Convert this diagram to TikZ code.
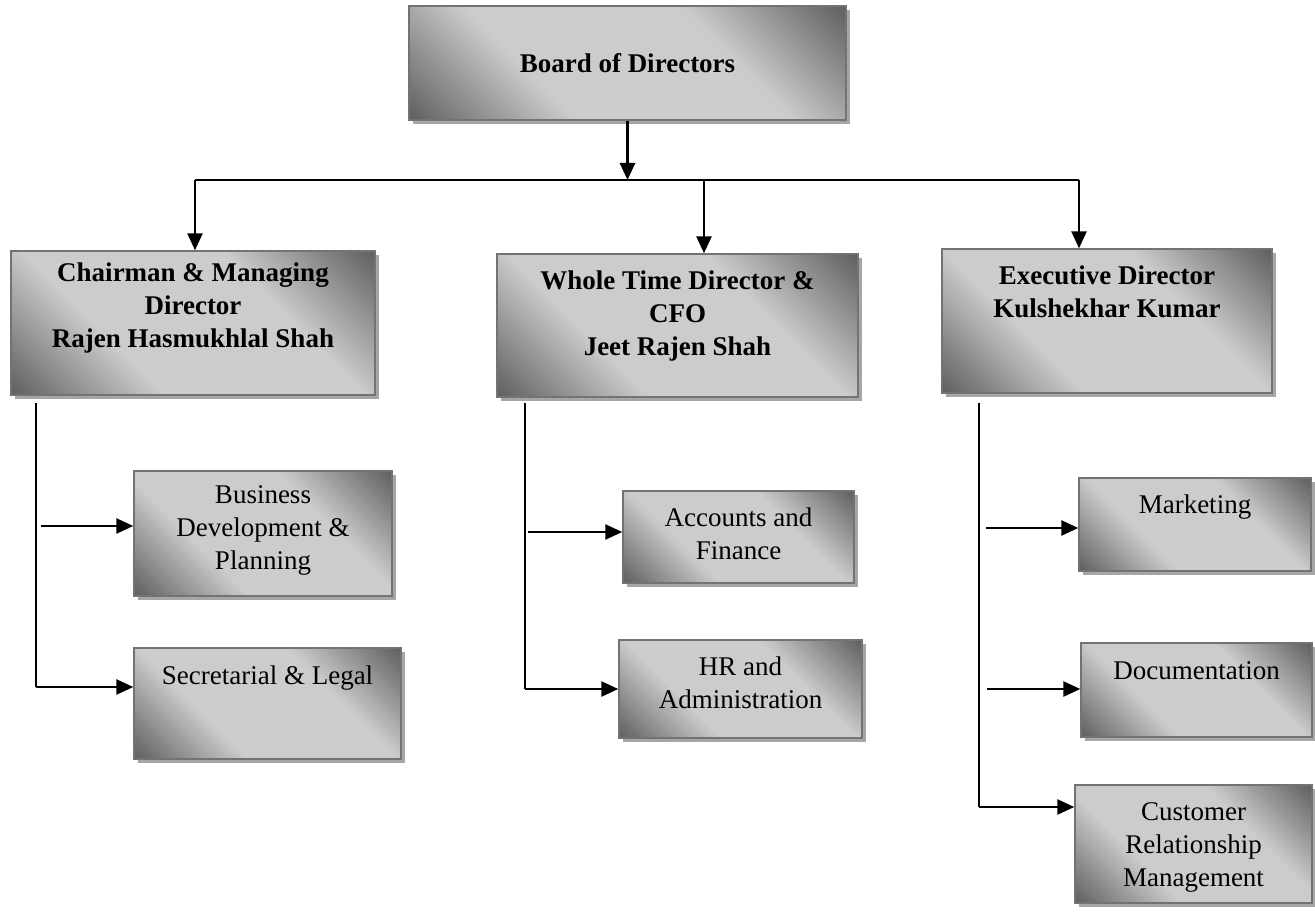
\documentclass[tikz,border=0pt]{standalone}
\usepackage{fontspec}
\setmainfont{Liberation Serif}
\usetikzlibrary{arrows.meta,shadows}
\pgfdeclarehorizontalshading{boxshade}{100bp}{color(0bp)=(black!62); color(15bp)=(black!62); color(36bp)=(black!20); color(64bp)=(black!20); color(85bp)=(black!62); color(100bp)=(black!62)}
\newcommand{\orgtext}[4]{\parbox[c][#2pt][t]{#1pt}{\centering\vspace*{#3pt}#4}}

\begin{document}
\begin{tikzpicture}[x=1pt, y=-1pt, >={Triangle[length=17pt,width=15pt]},
  orgbox/.style={rectangle, inner sep=0pt, draw=black!55, line width=1.4pt, shading=boxshade, shading angle=45, drop shadow={shadow xshift=4pt, shadow yshift=-4pt, fill=black!35, opacity=1}, font=\fontsize{27}{33}\selectfont},
  headbox/.style={orgbox, font=\fontsize{27}{33}\selectfont\bfseries},
  conn/.style={line width=2.6pt}]
\useasboundingbox (0,0) rectangle (1315,915);

% top level
\node[headbox] (board) at (627.5,63) {\orgtext{437}{114}{47}{Board of Directors}};
\node[headbox] (cmd) at (193,323) {\orgtext{364}{144}{12}{Chairman \& Managing\\Director\\Rajen Hasmukhlal Shah}};
\node[headbox] (wtd) at (677.5,325.5) {\orgtext{361}{143}{17}{Whole Time Director \&\\CFO\\Jeet Rajen Shah}};
\node[headbox] (exec) at (1107,321) {\orgtext{330}{144}{17}{Executive Director\\Kulshekhar Kumar}};

% departments
\node[orgbox] (bdp) at (263,533.5) {\orgtext{258}{125}{15}{Business\\Development \&\\Planning}};
\node[orgbox] (sec) at (267.5,703.5) {\orgtext{267}{111}{18}{Secretarial \& Legal}};
\node[orgbox] (acc) at (738.5,537) {\orgtext{231}{92}{17}{Accounts and\\Finance}};
\node[orgbox] (hr) at (740.5,689) {\orgtext{243}{98}{17}{HR and\\Administration}};
\node[orgbox] (mkt) at (1195,524.5) {\orgtext{232}{93}{17}{Marketing}};
\node[orgbox] (doc) at (1196.5,690) {\orgtext{231}{94}{19}{Documentation}};
\node[orgbox] (crm) at (1193.5,844) {\orgtext{237}{118}{18}{Customer\\Relationship\\Management}};

% bus
\coordinate (busL) at (195,180);
\coordinate (busR) at (1079,180);
\coordinate (wtdin) at (704,180);
\draw[conn] (busL) -- (busR);
\draw[conn,->] (board) -- (board |- busL);
\draw[conn,->] (busL) -- (busL |- cmd.north);
\draw[conn,->] (wtdin) -- (wtdin |- wtd.north);
\draw[conn,->] (busR) -- (busR |- exec.north);

% left branch
\coordinate (cmdL) at (36,403);
\coordinate (cmdE) at (36,687);
\coordinate (bdpin) at (41,526);
\draw[conn] (cmdL) -- (cmdE);
\draw[conn,->] (bdpin) -- (bdpin -| bdp.west);
\draw[conn,->] (cmdE) -- (cmdE -| sec.west);

% middle branch
\coordinate (wtdL) at (525,403);
\coordinate (wtdE) at (525,689);
\coordinate (accin) at (528,532);
\draw[conn] (wtdL) -- (wtdE);
\draw[conn,->] (accin) -- (accin -| acc.west);
\draw[conn,->] (wtdE) -- (wtdE -| hr.west);

% right branch
\coordinate (execL) at (979,403);
\coordinate (execE) at (979,807);
\coordinate (mktin) at (986,528);
\coordinate (docin) at (987,689);
\draw[conn] (execL) -- (execE);
\draw[conn,->] (mktin) -- (mktin -| mkt.west);
\draw[conn,->] (docin) -- (docin -| doc.west);
\draw[conn,->] (execE) -- (execE -| crm.west);
\end{tikzpicture}
\end{document}
